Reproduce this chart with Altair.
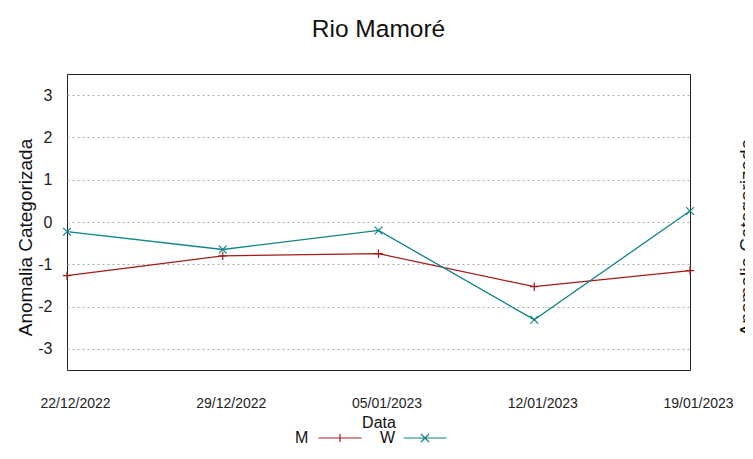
import altair as alt
import pandas as pd

dates = ["22/12/2022", "29/12/2022", "05/01/2023", "12/01/2023", "19/01/2023"]
m_vals = [-1.27, -0.80, -0.75, -1.53, -1.15]
w_vals = [-0.23, -0.65, -0.20, -2.31, 0.26]
series = ["M", "W"]
colors = ["#a31a1a", "#0e8484"]
y_ticks = [-3, -2, -1, 0, 1, 2, 3]

rows = []
for d, v in zip(dates, m_vals):
    rows.append({"date": d, "series": "M", "value": v})
for d, v in zip(dates, w_vals):
    rows.append({"date": d, "series": "W", "value": v})
df = pd.DataFrame(rows)

FONT = "Liberation Sans, Arial, sans-serif"

plus_path = "M-1,0H1M0,-1V1"
cross_path = "M-1,-1L1,1M-1,1L1,-1"
# legend samples: drawn to the right of the label (gnuplot style "M ——+——")
legend_paths = [
    "M6.3,0H14.9M10.6,-0.8V0.8",
    "M6.3,0H14.9M9.8,-0.8L11.4,0.8M9.8,0.8L11.4,-0.8",
]

x_enc = alt.X(
    "date:N",
    sort=dates,
    scale=alt.Scale(type="point", padding=0),
    axis=alt.Axis(
        title="Data", labelAngle=0, domain=False, ticks=False, grid=False,
        labelPadding=26, labelOffset=8, labelFontSize=14, labelFont=FONT,
        labelColor="#222", labelOverlap=False,
        titleFontSize=16, titleFontWeight="normal", titleFont=FONT,
        titleColor="#111", titlePadding=4,
    ),
)
y_scale = alt.Scale(domain=[-3.5, 3.5], nice=False, zero=False)
y_enc = alt.Y(
    "value:Q",
    scale=y_scale,
    axis=alt.Axis(
        orient="left", values=y_ticks, labelExpr="'' + datum.value",
        title="Anomalia Categorizada",
        grid=True, gridDash=[2, 3], gridColor="#aaaaaa", gridWidth=1,
        domain=False, ticks=False, labelPadding=15, labelFontSize=16,
        labelFont=FONT, labelColor="#222",
        titleFontSize=19, titleFontWeight="normal", titleFont=FONT,
        titleColor="#111", titlePadding=2, titleY=163,
    ),
)
color_enc = alt.Color("series:N", scale=alt.Scale(domain=series, range=colors), legend=None)

base = alt.Chart(df)

lines = base.mark_line(strokeWidth=1.3).encode(x=x_enc, y=y_enc, color=color_enc)

pts_m = base.transform_filter("datum.series == 'M'").mark_point(
    shape=plus_path, filled=False, size=70, strokeWidth=1.2, opacity=1
).encode(x=x_enc, y=y_enc, color=color_enc)

pts_w = base.transform_filter("datum.series == 'W'").mark_point(
    shape=cross_path, filled=False, size=60, strokeWidth=1.2, opacity=1
).encode(x=x_enc, y=y_enc, color=color_enc)

main = alt.layer(lines, pts_m, pts_w)

legend_props = dict(
    title=None, orient="none", direction="horizontal",
    legendX=212, legendY=356, symbolSize=100, symbolStrokeWidth=1.2,
    labelFontSize=16, labelFont=FONT, labelColor="#111",
    labelOffset=0, columnPadding=0, padding=0,
)

# invisible points that carry the legend and the mirrored right-hand axis title
legend_layer = base.mark_point(
    filled=False, size=100, strokeWidth=1.2, opacity=0
).encode(
    x=x_enc,
    y=alt.Y(
        "value:Q",
        scale=y_scale,
        axis=alt.Axis(
            orient="right", title="Anomalia Categorizada", labels=False,
            ticks=False, domain=False, grid=False, titleAngle=270,
            titlePadding=66, titleFontSize=19, titleFontWeight="normal",
            titleFont=FONT, titleColor="#111", titleY=163,
        ),
    ),
    color=alt.Color(
        "series:N",
        scale=alt.Scale(domain=series, range=colors),
        legend=alt.Legend(**legend_props),
    ),
    shape=alt.Shape(
        "series:N",
        scale=alt.Scale(domain=series, range=legend_paths),
        legend=alt.Legend(**legend_props),
    ),
)

chart = (
    alt.layer(legend_layer, main)
    .resolve_scale(y="independent")
    .properties(
        width=623,
        height=296,
        title=alt.TitleParams(
            "Rio Mamoré", fontSize=24.5, fontWeight="normal", font=FONT,
            color="#111", anchor="middle", offset=32,
        ),
        autosize=alt.AutoSizeParams(type="none"),
        padding={"left": 59, "top": 66, "right": 55, "bottom": 81},
    )
    .configure(background="white")
    .configure_view(stroke="#222", strokeWidth=1)
)

chart.save("out.html", embed_options={"renderer": "svg", "actions": False})
